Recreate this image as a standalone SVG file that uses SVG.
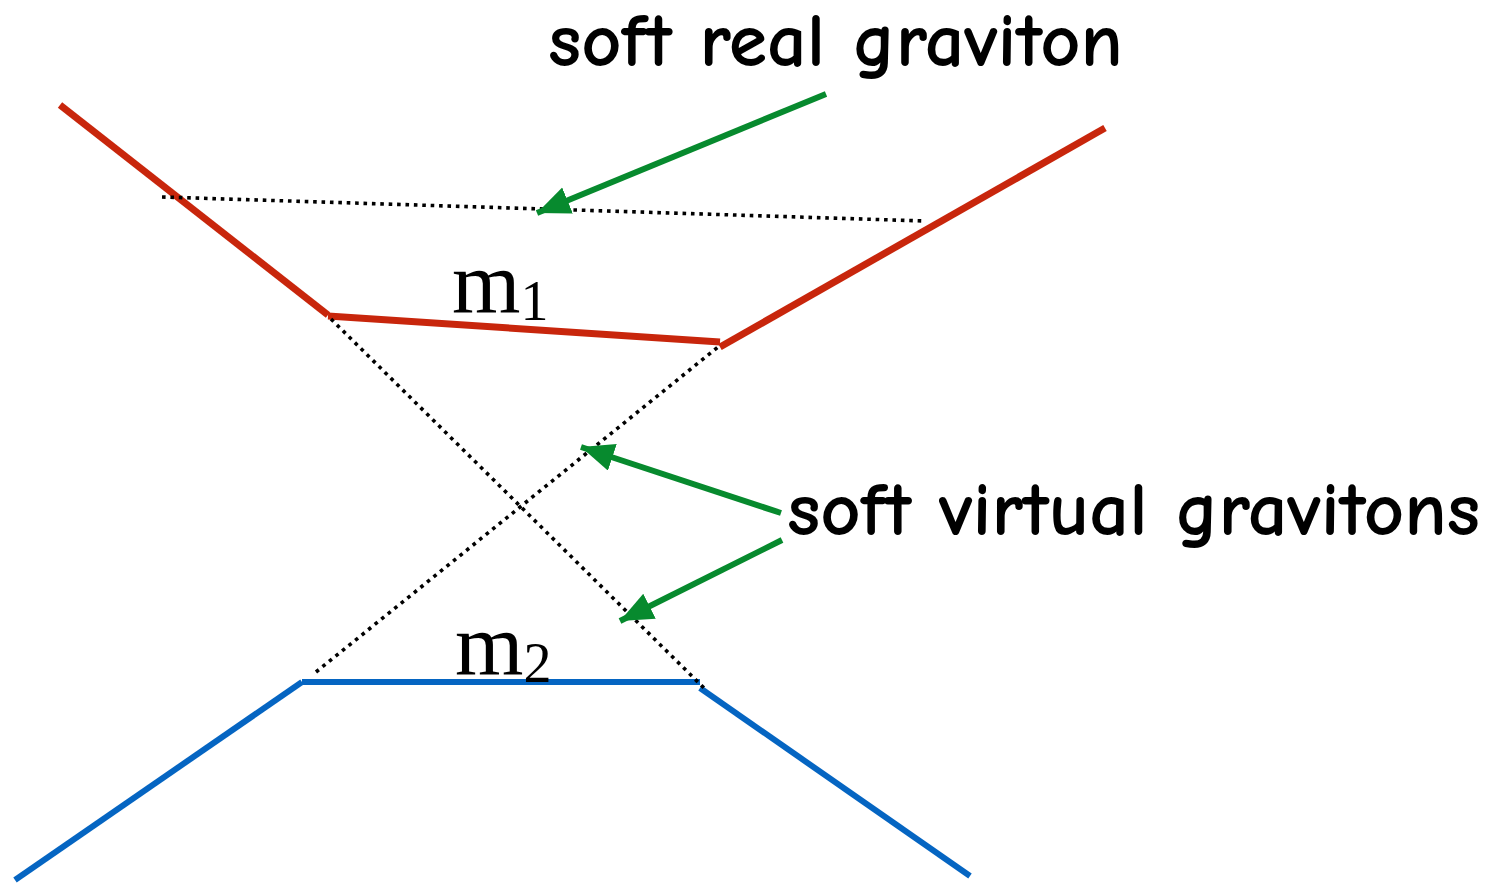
<svg xmlns="http://www.w3.org/2000/svg" width="1507" height="883" viewBox="0 0 1507 883">
<style>
.red{stroke:#c8260c;stroke-width:7;fill:none}
.blue{stroke:#0565c2;stroke-width:6;fill:none}
.dot{stroke:#000;stroke-width:3.6;stroke-dasharray:3.6 4.8;fill:none}
.grn{stroke:#078a2e;stroke-width:6;fill:none}
.lbl{font-family:"Comic Neue","Noto Sans","DejaVu Sans",sans-serif;font-size:76px;font-weight:bold;fill:#000}
.m{font-family:"Liberation Serif","Times New Roman",serif;fill:#000}
</style>
<defs>
<marker id="ah" markerWidth="36" markerHeight="32" refX="33" refY="14" orient="auto" markerUnits="userSpaceOnUse">
<path d="M0,0 L33,14 L0,28 Z" fill="#078a2e"/>
</marker>
</defs>
<g id="particle1">
<path class="red" d="M60,105 L328,315"/>
<path class="red" d="M328,316 L720,342"/>
<path class="red" d="M720,347 L1105,128"/>
</g>
<g id="particle2">
<path class="blue" d="M15,880 L302,682"/>
<path class="blue" d="M302,682 L700,682"/>
<path class="blue" d="M700,688 L970,876"/>
</g>
<g id="connectors">
<path class="dot" d="M162,197 L925,221"/>
<path class="dot" d="M331,319 L706,690"/>
<path class="dot" d="M316,672 L718,347"/>
<path class="grn" d="M826,94 L537,213" marker-end="url(#ah)"/>
<path class="grn" d="M781,513 L581,447" marker-end="url(#ah)"/>
<path class="grn" d="M782,540 L620,621" marker-end="url(#ah)"/>
</g>
<g id="labels">
<text class="lbl" x="548" y="66" textLength="575" lengthAdjust="spacingAndGlyphs">soft real graviton</text>
<text class="lbl" x="787" y="535" textLength="693" lengthAdjust="spacingAndGlyphs">soft virtual gravitons</text>
<text class="m" x="452" y="313" font-size="88">m<tspan font-size="56" dy="7">1</tspan></text>
<text class="m" x="455" y="675" font-size="88">m<tspan font-size="56" dy="7">2</tspan></text>
</g>
</svg>
